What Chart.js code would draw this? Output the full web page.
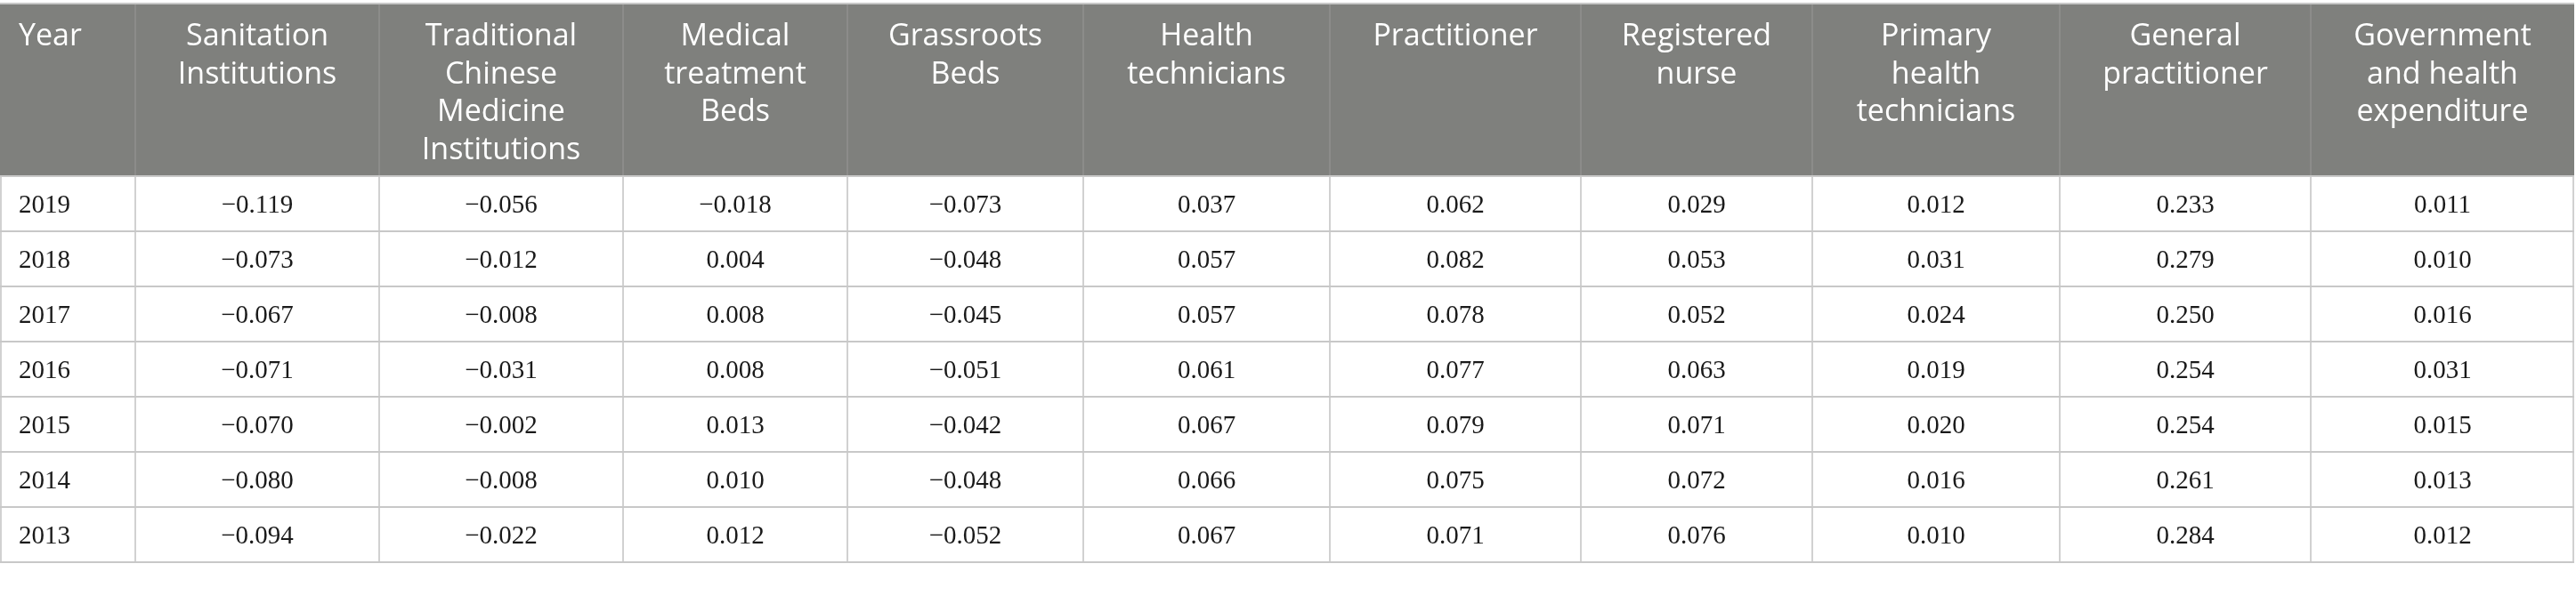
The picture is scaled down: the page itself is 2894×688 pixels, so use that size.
<!DOCTYPE html>
<html lang="en">
<head>
  <meta charset="UTF-8">
  <title>Table</title>
  <script src="https://cdn.jsdelivr.net/npm/chart.js"></script>
  <style>
    html, body { margin: 0; padding: 0; background: #fff; }
    canvas { display: block; }
  </style>
</head>
<body>
  <canvas id="tableChart" width="2894" height="688"></canvas>

  <script>
    // row labels and header labels (split the way the header wraps)
    const years = ['2019', '2018', '2017', '2016', '2015', '2014', '2013'];
    const headers = [
      ['Year'],
      ['Sanitation', 'Institutions'],
      ['Traditional', 'Chinese', 'Medicine', 'Institutions'],
      ['Medical', 'treatment', 'Beds'],
      ['Grassroots', 'Beds'],
      ['Health', 'technicians'],
      ['Practitioner'],
      ['Registered', 'nurse'],
      ['Primary', 'health', 'technicians'],
      ['General', 'practitioner'],
      ['Government', 'and health', 'expenditure']
    ];

    // one array per column, rows in the order of years
    const sanitationInst = [-0.119, -0.073, -0.067, -0.071, -0.070, -0.080, -0.094];
    const tcmInst        = [-0.056, -0.012, -0.008, -0.031, -0.002, -0.008, -0.022];
    const medicalBeds    = [-0.018, 0.004, 0.008, 0.008, 0.013, 0.010, 0.012];
    const grassrootsBeds = [-0.073, -0.048, -0.045, -0.051, -0.042, -0.048, -0.052];
    const healthTech     = [0.037, 0.057, 0.057, 0.061, 0.067, 0.066, 0.067];
    const practitioner   = [0.062, 0.082, 0.078, 0.077, 0.079, 0.075, 0.071];
    const nurse          = [0.029, 0.053, 0.052, 0.063, 0.071, 0.072, 0.076];
    const primaryTech    = [0.012, 0.031, 0.024, 0.019, 0.020, 0.016, 0.010];
    const generalPract   = [0.233, 0.279, 0.250, 0.254, 0.254, 0.261, 0.284];
    const govExpenditure = [0.011, 0.010, 0.016, 0.031, 0.015, 0.013, 0.012];

    const series = [sanitationInst, tcmInst, medicalBeds, grassrootsBeds, healthTech,
                    practitioner, nurse, primaryTech, generalPract, govExpenditure];

    // layout (scale units), kept apart from the data
    const colEdges = [0, 152, 426, 700, 952, 1217, 1494, 1776, 2036, 2314, 2596, 2892];
    const rowEdges = [4, 198, 260, 322, 384, 446, 508, 570, 632];
    const padLeft = 21;

    const fmt = v => (v < 0 ? '\u2212' : '') + Math.abs(v).toFixed(3);
    const mid = (a, i) => (a[i] + a[i + 1]) / 2;

    const datasets = [{
      label: 'Year',
      data: years.map((y, r) => ({ x: colEdges[0] + padLeft, y: mid(rowEdges, r + 1), txt: y })),
      align: 'left',
      pointRadius: 0
    }].concat(series.map((vals, c) => ({
      label: headers[c + 1].join(' '),
      data: vals.map((v, r) => ({ x: mid(colEdges, c + 1), y: mid(rowEdges, r + 1), txt: fmt(v) })),
      align: 'center',
      pointRadius: 0
    })));

    const tablePlugin = {
      id: 'tableCells',
      beforeDatasetsDraw(chart) {
        const ctx = chart.ctx;
        const xs = chart.scales.x, ys = chart.scales.y;
        const px = v => xs.getPixelForValue(v);
        const py = v => ys.getPixelForValue(v);
        const left = px(colEdges[0]), right = px(colEdges[colEdges.length - 1]);
        const top = py(rowEdges[0]), headBottom = py(rowEdges[1]);
        const bottom = py(rowEdges[rowEdges.length - 1]);
        ctx.save();
        // header band
        ctx.fillStyle = '#7f807d';
        ctx.fillRect(left, top, right - left, headBottom - top);
        // header separators
        ctx.strokeStyle = '#90918f';
        ctx.lineWidth = 1.5;
        colEdges.slice(1, -1).forEach(c => {
          ctx.beginPath(); ctx.moveTo(px(c), top); ctx.lineTo(px(c), headBottom); ctx.stroke();
        });
        // body verticals
        ctx.strokeStyle = '#c2c2c2';
        colEdges.forEach(c => {
          const x = Math.min(Math.max(px(c), left + 1), right - 1);
          ctx.beginPath(); ctx.moveTo(x, headBottom); ctx.lineTo(x, bottom); ctx.stroke();
        });
        // horizontal rules
        ctx.strokeStyle = '#c8c8c8';
        ctx.lineWidth = 2;
        rowEdges.forEach(r => {
          ctx.beginPath(); ctx.moveTo(left, py(r)); ctx.lineTo(right, py(r)); ctx.stroke();
        });
        // header text
        ctx.fillStyle = '#ffffff';
        ctx.font = '34px "Open Sans", sans-serif';
        ctx.textBaseline = 'alphabetic';
        headers.forEach((lines, c) => {
          const alignLeft = c === 0;
          ctx.textAlign = alignLeft ? 'left' : 'center';
          const x = alignLeft ? px(colEdges[0] + padLeft) : px(mid(colEdges, c));
          lines.forEach((t, i) => ctx.fillText(t, x, py(rowEdges[0] + 47 + i * 42.5)));
        });
        ctx.restore();
      },
      afterDatasetsDraw(chart) {
        const ctx = chart.ctx;
        ctx.save();
        ctx.fillStyle = '#1a1a1a';
        ctx.font = '29px "Liberation Serif", "Times New Roman", serif';
        ctx.textBaseline = 'alphabetic';
        chart.data.datasets.forEach((ds, i) => {
          const meta = chart.getDatasetMeta(i);
          ctx.textAlign = ds.align;
          meta.data.forEach((pt, r) => ctx.fillText(ds.data[r].txt, pt.x, pt.y + 10));
        });
        ctx.restore();
      }
    };

    new Chart(document.getElementById('tableChart'), {
      type: 'scatter',
      data: { datasets },
      options: {
        responsive: false,
        animation: false,
        layout: { padding: 0 },
        scales: {
          x: { type: 'linear', min: 0, max: 2894, display: false },
          y: { type: 'linear', min: 0, max: 688, reverse: true, display: false }
        },
        plugins: { legend: { display: false }, tooltip: { enabled: false } }
      },
      plugins: [tablePlugin]
    });
  </script>
</body>
</html>
